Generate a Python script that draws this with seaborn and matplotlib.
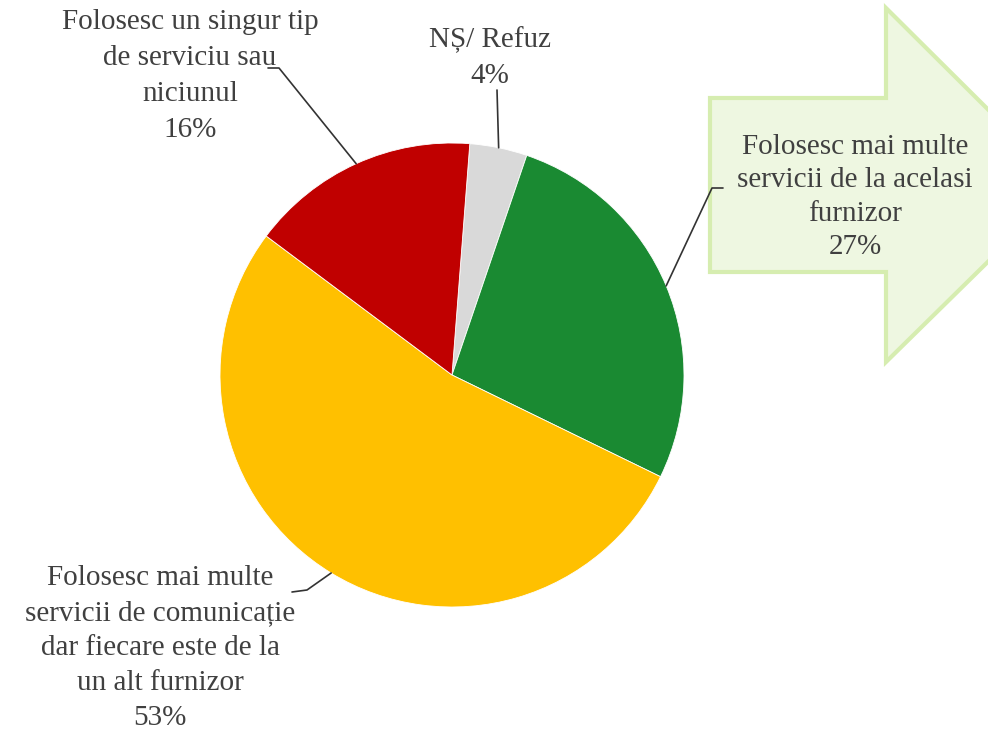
import numpy as np
import matplotlib.pyplot as plt
from matplotlib.patches import Polygon
import seaborn as sns

# slices, clockwise from the top
labels = ["NȘ/ Refuz",
          "Folosesc mai multe\nservicii de la acelasi\nfurnizor",
          "Folosesc mai multe\nservicii de comunicație\ndar fiecare este de la\nun alt furnizor",
          "Folosesc un singur tip\nde serviciu sau\nniciunul"]
values = [4, 27, 53, 16]
colors = ["#D9D9D9", "#1A8A32", "#FFC000", "#C00000"]

sns.set_theme(style="white")
plt.rcParams['font.family'] = ['Liberation Serif', 'DejaVu Serif']

W, H = 988, 733
fig = plt.figure(figsize=(W / 100, H / 100), dpi=100)
ax = fig.add_axes([0, 0, 1, 1])

cx, cy, r = 452, H - 375, 232

# green arrow behind the label of the 27% slice
arrow = Polygon([(710, H - 98), (886, H - 98), (886, H - 8), (1065, H - 186),
                 (886, H - 362), (886, H - 272), (710, H - 272)],
                closed=True, facecolor="#EEF7E1", edgecolor="#D6EDB0", lw=3, zorder=0)
ax.add_patch(arrow)

wedges, _ = ax.pie(values, colors=colors, startangle=85.6, counterclock=False,
                   center=(cx, cy), radius=r,
                   wedgeprops=dict(edgecolor="white", linewidth=0.6))

# label centre, line spacing and elbow where the leader line starts (pixels from top-left)
label_pos = [(490, 58), (855, 197), (160, 648), (190, 76)]
spacing = [1.5, 1.38, 1.44, 1.5]
elbows = [[(497, 90)], [(723, 188), (712, 188)], [(292, 592), (307, 590)], [(268, 68), (279, 68)]]

txt_color = "#404040"
for w, lab, v, (lx, ly), ls, elb in zip(wedges, labels, values, label_pos, spacing, elbows):
    mid = np.deg2rad((w.theta1 + w.theta2) / 2)
    px, py = cx + r * np.cos(mid), cy + r * np.sin(mid)
    ax.text(lx, H - ly, f"{lab}\n{v}%", ha="center", va="center",
            fontsize=21, color=txt_color, linespacing=ls)
    xs = [e[0] for e in elb] + [px]
    ys = [H - e[1] for e in elb] + [py]
    ax.plot(xs, ys, color="#333333", lw=1.2, zorder=3)

ax.set_xlim(0, W)
ax.set_ylim(0, H)
ax.set_aspect("equal")
ax.axis("off")

fig.savefig("out.png", dpi=100, facecolor="white")
